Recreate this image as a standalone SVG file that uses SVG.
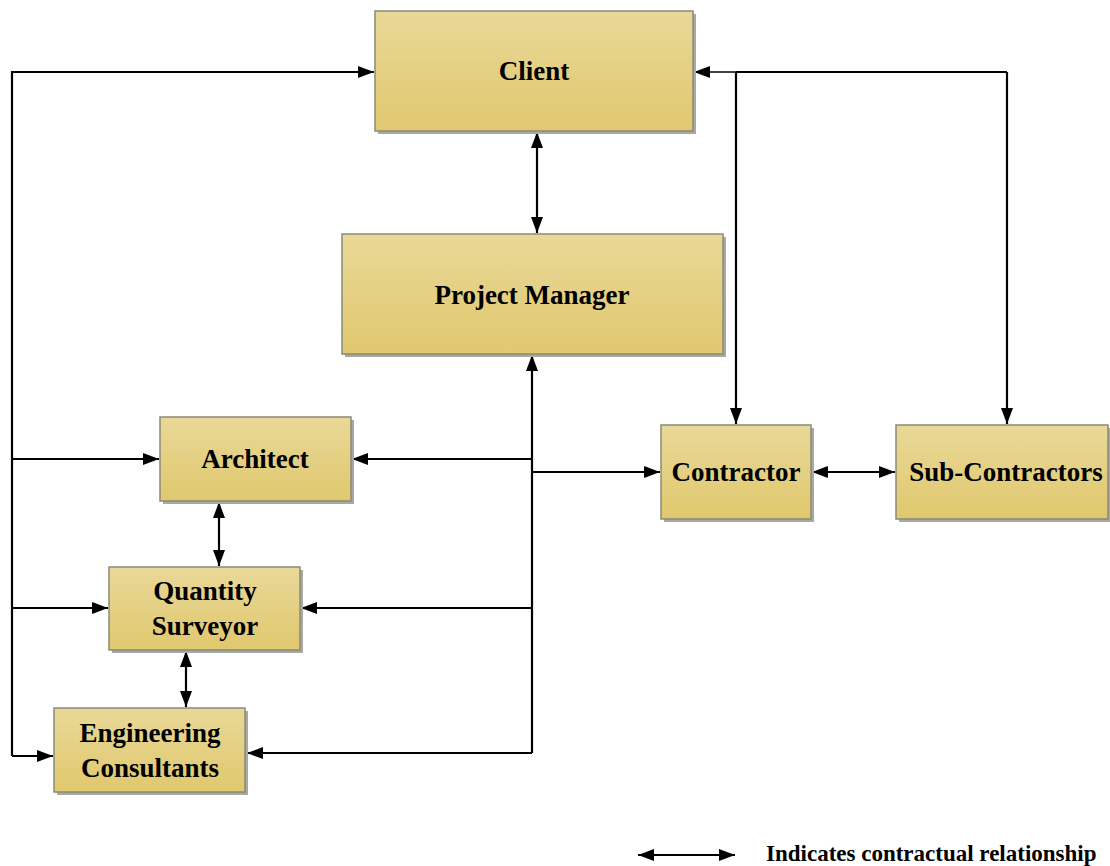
<svg xmlns="http://www.w3.org/2000/svg" width="1110" height="866" viewBox="0 0 1110 866">
  <style>
    .box { fill: url(#boxFill); stroke: #8a8a78; stroke-width: 1.5; }
    .shadow { fill: #a9a9a3; }
    .label { font-family: "Liberation Serif", "Times New Roman", serif; font-weight: bold; font-size: 27px; fill: #000; text-anchor: middle; }
    .legend { font-family: "Liberation Serif", "Times New Roman", serif; font-weight: bold; font-size: 23px; fill: #000; }
    .line { fill: none; stroke: #000; stroke-width: 2.2; }
    .arrow-end { marker-end: url(#head); }
    .arrow-both { marker-start: url(#head); marker-end: url(#head); }
  </style>
  <defs>
    <linearGradient id="boxFill" x1="0" y1="0" x2="0" y2="1">
      <stop offset="0" stop-color="#e9d898"/>
      <stop offset="1" stop-color="#e0c86e"/>
    </linearGradient>
    <marker id="head" viewBox="0 0 16 12" markerWidth="16" markerHeight="12" refX="16" refY="6" orient="auto-start-reverse" markerUnits="userSpaceOnUse">
      <path d="M0,0 L16,6 L0,12 z" fill="#000"/>
    </marker>
  </defs>

  <rect width="1110" height="866" fill="#fff"/>

  <!-- connectors -->
  <g id="connectors">
    <!-- left bus feeding Client and the consultants -->
    <path class="line" d="M12,756 L12,72 L374,72" marker-end="url(#head)"/>
    <path class="line arrow-end" d="M12,459 L159,459"/>
    <path class="line arrow-end" d="M12,608 L108,608"/>
    <path class="line arrow-end" d="M12,756 L53,756"/>

    <!-- Client to Project Manager -->
    <path class="line arrow-both" d="M537,132 L537,233"/>

    <!-- Project Manager bus -->
    <path class="line arrow-end" d="M532,753 L532,355"/>
    <path class="line arrow-end" d="M532,459 L352,459"/>
    <path class="line arrow-end" d="M532,608 L301,608"/>
    <path class="line arrow-end" d="M532,753 L247,753"/>
    <path class="line arrow-end" d="M532,472 L660,472"/>

    <!-- consultants chain -->
    <path class="line arrow-both" d="M219,502 L219,566"/>
    <path class="line arrow-both" d="M186,651 L186,707"/>

    <!-- Client to Contractor and Sub-Contractors -->
    <path class="line" d="M736,72 L1007,72"/>
    <path class="line" style="stroke-width:1.5" d="M736,72 L694,72" marker-end="url(#head)"/>
    <path class="line arrow-end" d="M736,72 L736,424"/>
    <path class="line arrow-end" d="M1007,72 L1007,424"/>

    <!-- Contractor to Sub-Contractors -->
    <path class="line arrow-both" d="M812,472 L895,472"/>
  </g>

  <!-- nodes -->
  <g id="client">
    <rect class="shadow" x="378" y="14" width="318" height="120"/>
    <rect class="box" x="375" y="11" width="318" height="120"/>
    <text class="label" x="534" y="80">Client</text>
  </g>

  <g id="project-manager">
    <rect class="shadow" x="345" y="237" width="381" height="120"/>
    <rect class="box" x="342" y="234" width="381" height="120"/>
    <text class="label" x="532" y="304">Project Manager</text>
  </g>

  <g id="architect">
    <rect class="shadow" x="163" y="420" width="191" height="84"/>
    <rect class="box" x="160" y="417" width="191" height="84"/>
    <text class="label" x="255" y="468">Architect</text>
  </g>

  <g id="quantity-surveyor">
    <rect class="shadow" x="112" y="570" width="191" height="83"/>
    <rect class="box" x="109" y="567" width="191" height="83"/>
    <text class="label" x="205" y="600">Quantity</text>
    <text class="label" x="205" y="635">Surveyor</text>
  </g>

  <g id="engineering-consultants">
    <rect class="shadow" x="57" y="711" width="191" height="84"/>
    <rect class="box" x="54" y="708" width="191" height="84"/>
    <text class="label" x="150" y="742">Engineering</text>
    <text class="label" x="150" y="777">Consultants</text>
  </g>

  <g id="contractor">
    <rect class="shadow" x="664" y="428" width="150" height="94"/>
    <rect class="box" x="661" y="425" width="150" height="94"/>
    <text class="label" x="736" y="481">Contractor</text>
  </g>

  <g id="sub-contractors">
    <rect class="shadow" x="899" y="428" width="212" height="94"/>
    <rect class="box" x="896" y="425" width="212" height="94"/>
    <text class="label" x="1006" y="481">Sub-Contractors</text>
  </g>

  <!-- legend -->
  <g id="legend">
    <path class="line arrow-both" d="M638,855 L735,855"/>
    <text class="legend" x="766" y="861">Indicates contractual relationship</text>
  </g>
</svg>
